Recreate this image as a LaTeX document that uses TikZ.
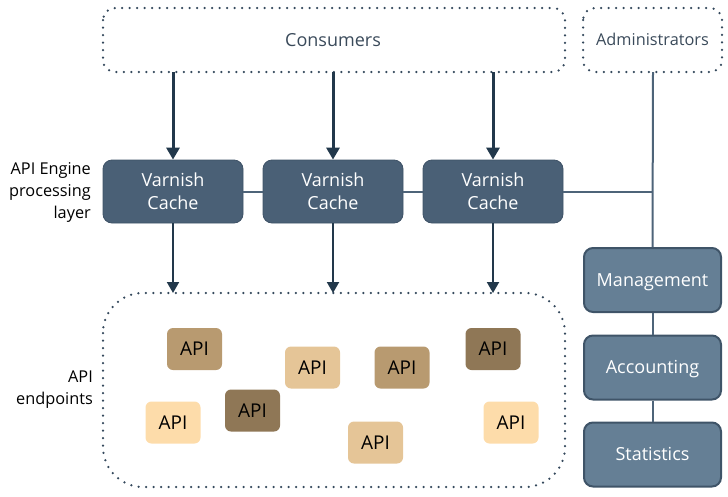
\documentclass[tikz,border=0pt]{standalone}
\usepackage{fontspec}
\setmainfont{Open Sans}
\usetikzlibrary{arrows.meta}
\definecolor{vfill}{HTML}{4A6076}
\definecolor{vdraw}{HTML}{3E5266}
\definecolor{mfill}{HTML}{657F95}
\definecolor{mdraw}{HTML}{3F5468}
\definecolor{arr}{HTML}{22384B}
\definecolor{lin}{HTML}{4E6479}
\definecolor{dot}{HTML}{34485C}
\definecolor{txt}{HTML}{3A4A5A}
\definecolor{apiA}{HTML}{B89A70}
\definecolor{apiB}{HTML}{E5C597}
\definecolor{apiC}{HTML}{8F7756}
\definecolor{apiD}{HTML}{FDDCAA}
\tikzset{
  dotbox/.style={draw=dot, line width=2.5pt, dash pattern=on 0pt off 7.5pt, line cap=round},
  varnish/.style={fill=vfill, draw=vdraw, line width=0.8pt, rounded corners=9pt, minimum width=140pt, minimum height=63pt, text=white, font=\fontsize{18}{23}\selectfont, align=center, inner sep=0pt},
  mgmt/.style={fill=mfill, draw=mdraw, line width=2pt, rounded corners=9pt, minimum width=137pt, minimum height=64pt, text=white, font=\fontsize{18}{22}\selectfont, inner sep=0pt, text height=12.8pt, text depth=0pt},
  api/.style={rounded corners=6pt, minimum width=55pt, minimum height=42pt, inner sep=0pt, font=\fontsize{19}{22}\selectfont, text=black, text height=13.6pt, text depth=0pt},
  bigarr/.style={draw=arr, line width=3pt, -{Triangle[length=12pt,width=13pt]}},
  smallarr/.style={draw=arr, line width=2pt, -{Triangle[length=11pt,width=12pt]}},
  conn/.style={draw=lin, line width=2pt},
  lbl/.style={font=\fontsize{16.3}{22}\selectfont, align=right, text=black, inner sep=0pt, anchor=east}
}
\begin{document}
\begin{tikzpicture}[x=1pt,y=-1pt]
\useasboundingbox (0,0) rectangle (728,496);
% dotted groups
\draw[dotbox, rounded corners=12pt] (103,8) rectangle (565,72);
\node[text=txt, font=\fontsize{18}{22}\selectfont, text height=12.8pt, text depth=0pt] (cons) at (333,40) {Consumers};
\draw[dotbox, rounded corners=12pt] (583,8) rectangle (722,72);
\node[text=txt, font=\fontsize{16.3}{20}\selectfont, text height=11.6pt, text depth=0pt] (admin) at (652.5,40) {Administrators};
\coordinate (adminB) at (653,72);
\draw[dotbox, rounded corners=40pt] (103,293) rectangle (565,487);
% varnish
\node[varnish] (v1) at (173,191.5) {Varnish\\Cache};
\node[varnish] (v2) at (333,191.5) {Varnish\\Cache};
\node[varnish] (v3) at (493,191.5) {Varnish\\Cache};
% consumers arrows
\coordinate (c1) at (173,72); \coordinate (c2) at (333,72); \coordinate (c3) at (493,72);
\draw[bigarr] (c1) -- (v1.north);
\draw[bigarr] (c2) -- (v2.north);
\draw[bigarr] (c3) -- (v3.north);
% endpoints arrows
\coordinate (e1) at (173,293); \coordinate (e2) at (333,293); \coordinate (e3) at (493,293);
\draw[smallarr] (v1.south) -- (e1);
\draw[smallarr] (v2.south) -- (e2);
\draw[smallarr] (v3.south) -- (e3);
% management column
\node[mgmt] (man) at (652.5,280) {Management};
\node[mgmt] (acc) at (652.5,367.5) {Accounting};
\node[mgmt] (sta) at (652.5,454.5) {Statistics};
\coordinate (junc) at (653,191.5);
\draw[conn] (v1.east) -- (v2.west);
\draw[conn] (v2.east) -- (v3.west);
\draw[conn] (v3.east) -- (junc);
\draw[conn] (adminB) -- (man.north);
\draw[conn] (man.south) -- (acc.north);
\draw[conn] (acc.south) -- (sta.north);
% labels
\node[lbl] (l1) at (91,192) {API Engine\\processing\\layer};
\node[lbl] (l2) at (93,390) {API\\endpoints};
% APIs
\node[api, fill=apiA] (a1) at (194.5,349) {API};
\node[api, fill=apiB] (a2) at (312.5,367.5) {API};
\node[api, fill=apiA] (a3) at (402,367.5) {API};
\node[api, fill=apiC] (a4) at (493,349) {API};
\node[api, fill=apiD] (a5) at (173,422.5) {API};
\node[api, fill=apiC] (a6) at (252.5,410.5) {API};
\node[api, fill=apiB] (a7) at (375.5,442.5) {API};
\node[api, fill=apiD] (a8) at (511,422.5) {API};
\end{tikzpicture}
\end{document}
